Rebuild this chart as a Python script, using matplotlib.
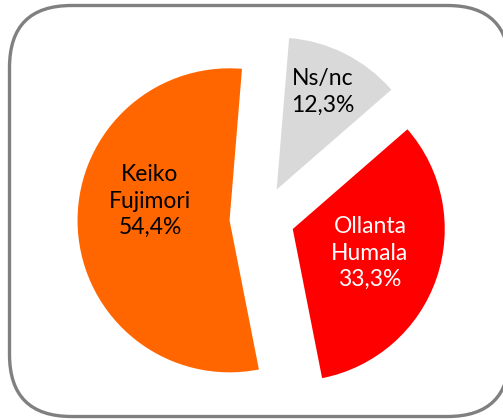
import matplotlib.pyplot as plt
from matplotlib.patches import FancyBboxPatch

# Data
labels = ["Ns/nc", "Ollanta\nHumala", "Keiko\nFujimori"]
shares = [12.3, 33.3, 54.4]
colors = ["#D9D9D9", "#FF0000", "#FF6600"]
text_colors = ["black", "white", "black"]

# label anchor points (figure pixels, y up)
label_xy = [(323, 328), (370, 167), (150, 219)]

fig = plt.figure(figsize=(5.03, 4.20), dpi=100)
ax = fig.add_axes([0, 0, 1, 1])
ax.set_xlim(0, 503)
ax.set_ylim(0, 420)
ax.set_aspect("equal")
ax.axis("off")

# rounded frame, runs off the right edge like the original
frame = FancyBboxPatch((9.5, 3.5), 500, 411,
                       boxstyle="round,pad=0,rounding_size=62",
                       facecolor="white", edgecolor="#808080", linewidth=2.4)
ax.add_patch(frame)

# explode is in data units here (pixels)
ax.pie(shares, colors=colors, startangle=85.3, counterclock=False,
       radius=152, center=(262, 201.5), explode=[32.5] * 3,
       wedgeprops=dict(linewidth=0))
ax.set_xlim(0, 503)
ax.set_ylim(0, 420)

for lab, val, (x, y), tc in zip(labels, shares, label_xy, text_colors):
    txt = f"{lab}\n{val:.1f}%".replace(".", ",")
    ax.text(x, y, txt, ha="center", va="center", ma="center", color=tc,
            fontsize=16.5, family="Lato", linespacing=1.3)

fig.savefig("out.png", dpi=100)
